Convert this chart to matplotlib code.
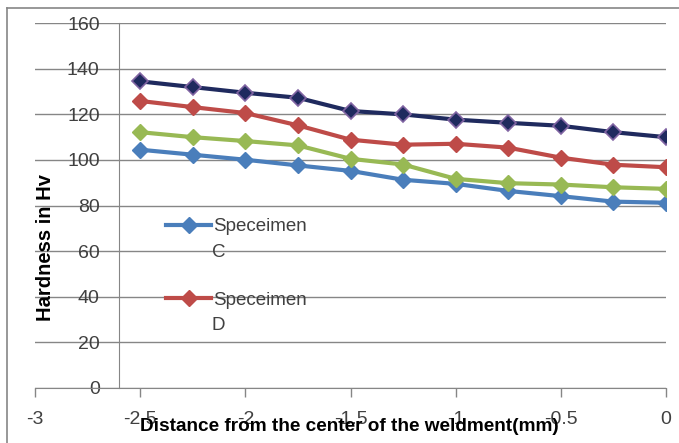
import matplotlib
matplotlib.use("Agg")
import matplotlib.pyplot as plt
from matplotlib.lines import Line2D

# distance from weld centre (mm)
distance = [-2.5, -2.25, -2.0, -1.75, -1.5, -1.25, -1.0, -0.75, -0.5, -0.25, 0.0]

spec_c = [104.5, 102.3, 100.1, 97.6, 95.2, 91.3, 89.5, 86.4, 84.1, 81.7, 81.2]
spec_d = [125.9, 123.2, 120.6, 115.2, 108.9, 106.7, 107.1, 105.4, 101.0, 97.9, 96.8]
spec_e = [112.2, 110.0, 108.3, 106.4, 100.5, 98.0, 91.7, 89.8, 89.2, 88.0, 87.3]
spec_f = [134.5, 132.0, 129.5, 127.3, 121.5, 120.0, 117.7, 116.3, 115.0, 112.2, 110.0]

xticks = [-3, -2.5, -2, -1.5, -1, -0.5, 0]
xtick_labels = ["-3", "-2.5", "-2", "-1.5", "-1", "-0.5", "0"]
yticks = [0, 20, 40, 60, 80, 100, 120, 140, 160]

plt.rcParams['font.family'] = ['Liberation Sans', 'DejaVu Sans']
grey = "#868686"
txt = "#404040"

fig = plt.figure(figsize=(6.79, 4.43), dpi=100)
ax = fig.add_axes([35/679, 1 - 387.7/443, (666-35)/679, (387.7-23.3)/443])

l_c, = ax.plot(distance, spec_c, color="#4A7EBB", lw=3, marker="D", ms=8,
               mfc="#4A7EBB", mec="#4A7EBB", zorder=3)
l_d, = ax.plot(distance, spec_d, color="#BE4B48", lw=3, marker="D", ms=8,
               mfc="#BE4B48", mec="#BE4B48", zorder=3)
l_e, = ax.plot(distance, spec_e, color="#98B954", lw=3, marker="D", ms=8,
               mfc="#98B954", mec="#98B954", zorder=3)
l_f, = ax.plot(distance, spec_f, color="#1F2A5E", lw=3, marker="D", ms=8,
               mfc="#1F2A5E", mec="#8064A2", mew=1.2, zorder=4)

ax.set_xlim(-3, 0)
ax.set_ylim(0, 160)
ax.set_xticks(xticks)
ax.set_xticklabels(xtick_labels)
ax.set_yticks(yticks)

ax.grid(axis="y", color=grey, lw=1)
ax.set_axisbelow(True)
for s in ["top", "right"]:
    ax.spines[s].set_visible(False)
ax.spines["left"].set_position(("data", -2.6))
ax.spines["left"].set_color(grey)
ax.spines["bottom"].set_color(grey)

ax.tick_params(axis="y", length=0, pad=14, labelsize=14, labelcolor=txt)
ax.tick_params(axis="x", length=6.5, width=1, color=grey, pad=10,
               labelsize=14, labelcolor=txt)

ax.set_xlabel("Distance from the center of the weldment(mm)", fontsize=13.7,
              fontweight="bold")
ax.xaxis.set_label_coords(0.499, -0.083)
ax.set_ylabel("Hardness in Hv", fontsize=14.5, fontweight="bold")
ax.yaxis.set_label_coords(0.0317, 0.386)

leg = ax.legend([l_c, l_d], ["Speceimen", "Speceimen"], frameon=False,
                loc="upper left", bbox_to_anchor=(0.193, 0.491),
                fontsize=13.5, labelspacing=3.0, handlelength=2.4,
                handletextpad=0.1, borderpad=0)
for t in leg.get_texts():
    t.set_color(txt)
ax.text(0.2805, 0.3697, "C", transform=ax.transAxes, fontsize=13.5,
        color=txt, va="center")
ax.text(0.2805, 0.172, "D", transform=ax.transAxes, fontsize=13.5,
        color=txt, va="center")

# chart frame (top and left edges visible)
fig.add_artist(Line2D([7/679, 7/679], [0, 1 - 8/443], transform=fig.transFigure,
                      color=grey, lw=1.2))
fig.add_artist(Line2D([7/679, 1], [1 - 8/443, 1 - 8/443], transform=fig.transFigure,
                      color=grey, lw=1.2))

fig.savefig("out.png", dpi=100)
